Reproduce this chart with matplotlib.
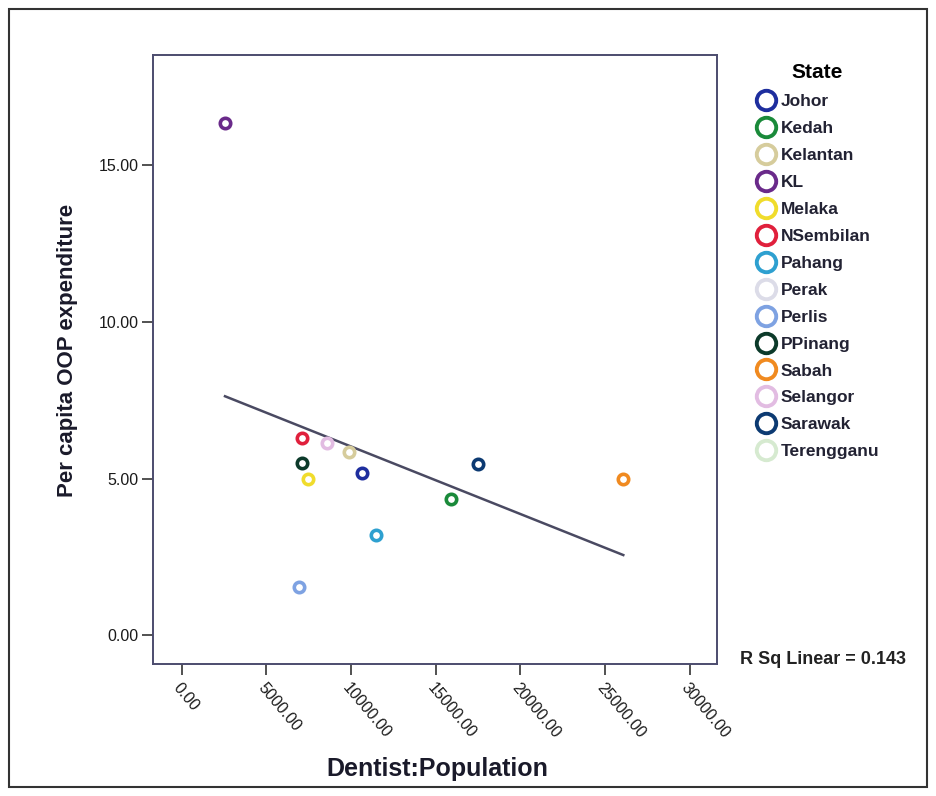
import numpy as np
import matplotlib
matplotlib.use("Agg")
import matplotlib.pyplot as plt
from matplotlib.lines import Line2D
from matplotlib.patches import Rectangle

plt.rcParams['font.family'] = ['Liberation Sans', 'DejaVu Sans']

states = ["Johor", "Kedah", "Kelantan", "KL", "Melaka", "NSembilan", "Pahang",
          "Perak", "Perlis", "PPinang", "Sabah", "Selangor", "Sarawak", "Terengganu"]
colors = ["#1e2e9e", "#1a8a3a", "#d6cc9c", "#6a2a8a", "#f0dc2c", "#e0203c", "#2ea0d0",
          "#dcdce8", "#7ea2e2", "#0c3a2a", "#f08a20", "#e2bce2", "#0c3a72", "#d6ead0"]
dentist_pop = [10626, 15897, 9894, 2556, 7438, 7119, 11470,
               np.nan, 6942, 7119, 26068, 8560, 17509, np.nan]
oop_exp = [5.19, 4.34, 5.86, 16.36, 4.98, 6.29, 3.20,
           np.nan, 1.53, 5.49, 4.99, 6.15, 5.47, np.nan]
xticks = [0, 5000, 10000, 15000, 20000, 25000, 30000]
yticks = [0, 5, 10, 15]
r_sq_text = "R Sq Linear = 0.143"

W, H = 936, 796
fig = plt.figure(figsize=(W / 100, H / 100), dpi=100)
fig.patch.set_facecolor("white")

ax = fig.add_axes([152.5 / W, 1 - 664 / H, (717 - 152.5) / W, (664 - 55) / H])
ax.set_xlim(-1724, 31600)
ax.set_ylim(-0.92, 18.52)

x = np.array(dentist_pop, dtype=float)
y = np.array(oop_exp, dtype=float)
for xi, yi, c in zip(x, y, colors):
    if np.isnan(xi):
        continue
    ax.scatter([xi], [yi], s=56, facecolors="white", edgecolors=c, linewidths=2.6, zorder=3)

mask = ~np.isnan(x)
slope, intercept = np.polyfit(x[mask], y[mask], 1)
xs = np.array([x[mask].min(), x[mask].max()])
ax.plot(xs, slope * xs + intercept, color="#4a4a62", lw=1.8, zorder=2)

frame_c = "#4c4c6e"
for s in ax.spines.values():
    s.set_color(frame_c)
    s.set_linewidth(1.4)

ax.set_xticks(xticks)
ax.set_xticklabels([f"{v:.2f}" for v in xticks])
ax.set_yticks(yticks)
ax.set_yticklabels([f"{v:.2f}" for v in yticks])
ax.tick_params(axis="both", direction="out", length=8, width=1.2, color="#333333",
               labelsize=11.5, labelcolor="#1a1a1a")
ax.tick_params(axis="y", pad=2)
for lab in ax.get_xticklabels():
    lab.set_rotation(-50)
    lab.set_ha("left")
    lab.set_va("top")
    lab.set_rotation_mode("anchor")

fig.text(68 / W, 1 - 350 / H, "Per capita OOP expenditure", rotation=90,
         ha="center", va="center", fontsize=16, fontweight="bold", color="#1a1a2a")
fig.text(437 / W, 1 - 769 / H, "Dentist:Population", ha="center", va="center",
         fontsize=18, fontweight="bold", color="#1a1a2a")

# legend
handles = [Line2D([0], [0], marker="o", linestyle="none", markersize=14,
                  markerfacecolor="white", markeredgecolor=c, markeredgewidth=2.8)
           for c in colors]
leg = fig.legend(handles, states, title="State", loc="upper left",
                 bbox_to_anchor=(754 / W, 1 - 63 / H), frameon=False,
                 fontsize=12.5, title_fontsize=15, handletextpad=0.2,
                 labelspacing=0.68, handlelength=1.35, borderaxespad=0, borderpad=0)
leg.get_title().set_fontweight("bold")
for t in leg.get_texts():
    t.set_color("#222233")
    t.set_fontweight("bold")

fig.text(740 / W, 1 - 660 / H, r_sq_text, ha="left", va="center", fontsize=13,
         fontweight="bold", color="#222222")

fig.add_artist(Rectangle((9 / W, 9 / H), (W - 18) / W, (H - 18) / H, transform=fig.transFigure,
                         fill=False, edgecolor="#333333", lw=1.5))

fig.savefig("out.png", dpi=100)
